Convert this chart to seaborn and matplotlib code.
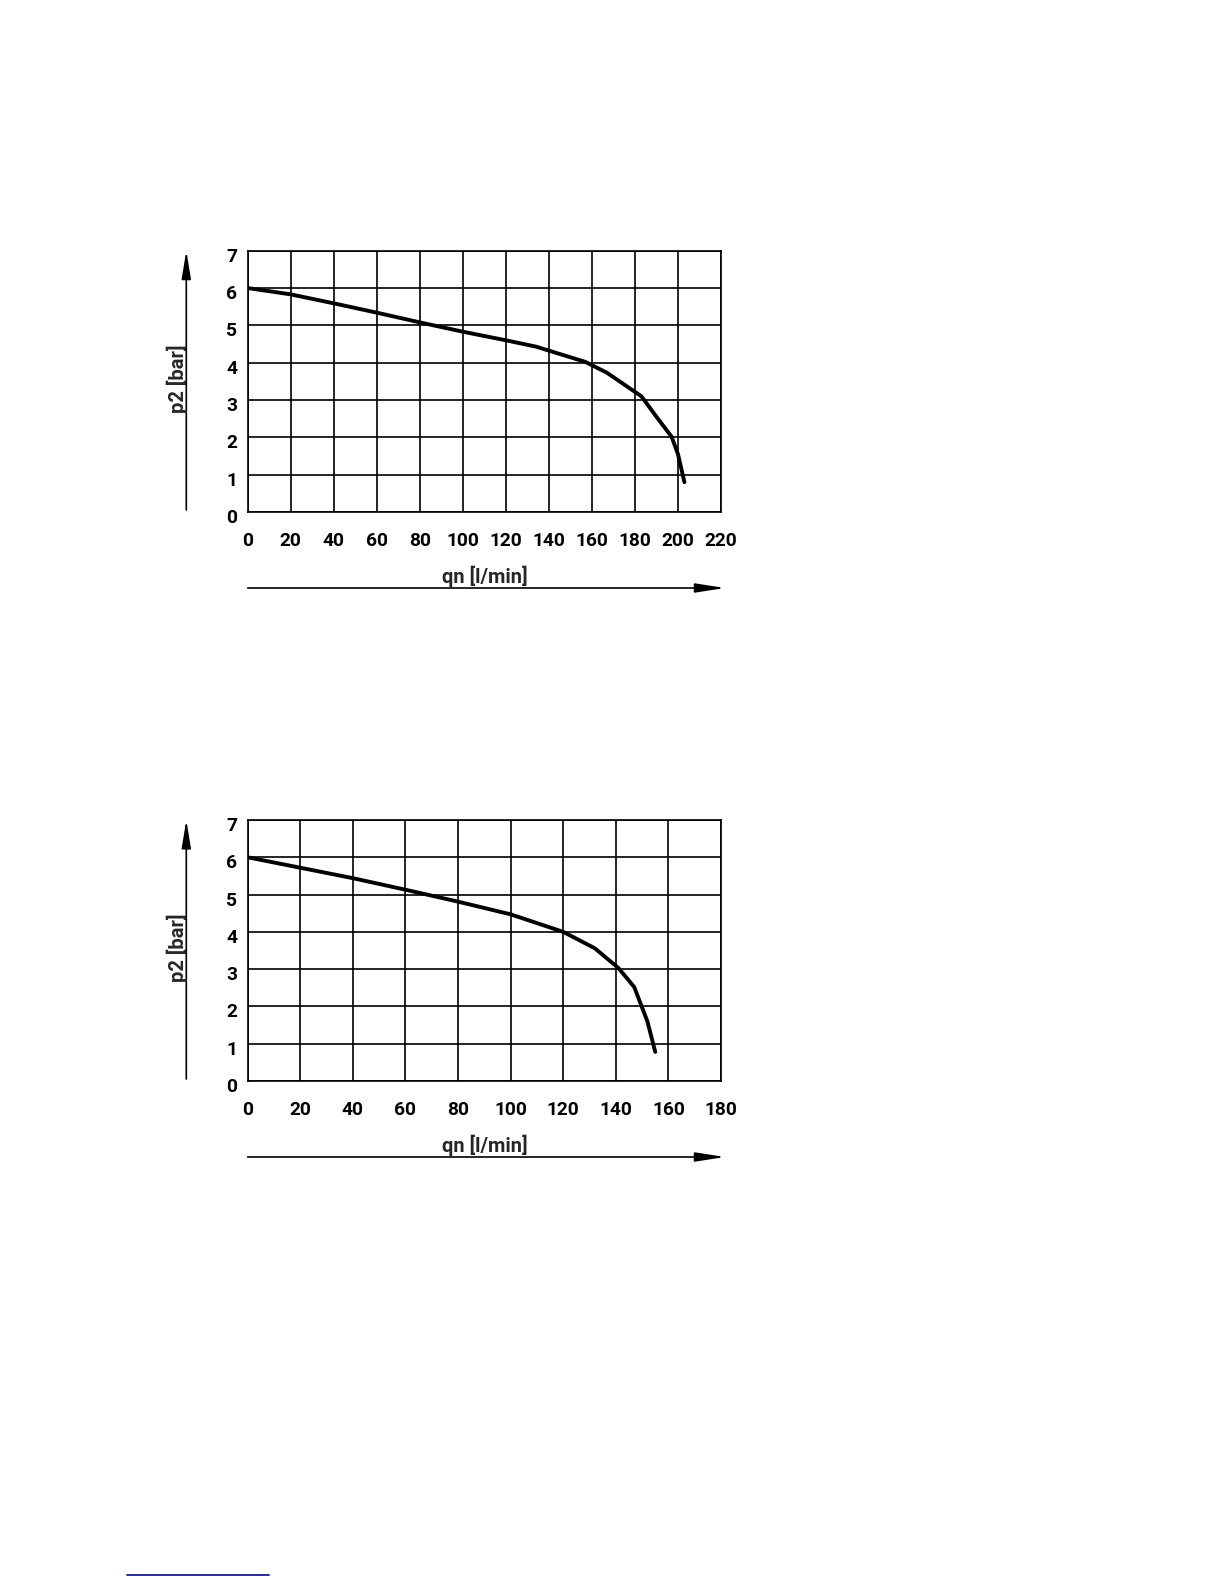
import numpy as np
import pandas as pd
import matplotlib
matplotlib.use("Agg")
import matplotlib.pyplot as plt
import matplotlib.transforms as mtransforms
import seaborn as sns

# ---- data ----
qn_1 = [0, 20, 40, 60, 80, 100, 120, 134, 157, 167, 183, 190, 197, 200, 203]
p2_1 = [6.0, 5.83, 5.59, 5.34, 5.08, 4.83, 4.60, 4.43, 4.02, 3.73, 3.10, 2.55, 2.02, 1.55, 0.80]
xticks_1 = [0, 20, 40, 60, 80, 100, 120, 140, 160, 180, 200, 220]

qn_2 = [0, 20, 40, 60, 80, 100, 120, 132, 141, 147, 152, 155]
p2_2 = [6.0, 5.72, 5.44, 5.13, 4.81, 4.47, 4.00, 3.56, 3.03, 2.52, 1.60, 0.78]
xticks_2 = [0, 20, 40, 60, 80, 100, 120, 140, 160, 180]

yticks = [0, 1, 2, 3, 4, 5, 6, 7]
xlabel = "qn [l/min]"
ylabel = "p2 [bar]"

sns.set_style("white")
plt.rcParams["font.family"] = ["Roboto", "DejaVu Sans"]

W, H = 1224, 1584
fig = plt.figure(figsize=(W / 100, H / 100), dpi=100)
fig.patch.set_facecolor("white")


def fx(px):
    return px / W


def fy(py):
    return 1 - py / H


def draw_chart(qn, p2, xticks, top, bottom, left=247.7, right=721):
    ax = fig.add_axes([fx(left), fy(bottom), fx(right) - fx(left), fy(top) - fy(bottom)])
    df = pd.DataFrame({"qn": qn, "p2": p2})
    sns.lineplot(data=df, x="qn", y="p2", ax=ax, color="black", linewidth=2.8,
                 sort=False, zorder=3)
    ax.set_xlim(xticks[0], xticks[-1])
    ax.set_ylim(0, 7)
    ax.set_xticks(xticks)
    ax.set_yticks(yticks)
    ax.grid(True, color="black", linewidth=1.2)
    for s in ax.spines.values():
        s.set_color("black")
        s.set_linewidth(1.2)
    ax.tick_params(axis="x", length=5.5, width=1.2, color="black",
                   labelsize=13.8, labelcolor="black", pad=9, direction="out")
    ax.tick_params(axis="y", length=7, width=1.2, color="black",
                   labelsize=13.8, labelcolor="black", pad=0.5, direction="out")
    off = mtransforms.ScaledTranslation(0, -4 / 100, fig.dpi_scale_trans)
    for lab in ax.get_xticklabels() + ax.get_yticklabels():
        lab.set_fontweight("bold")
    for lab in ax.get_yticklabels():
        lab.set_transform(lab.get_transform() + off)
    ax.set_xlabel("")
    ax.set_ylabel("")

    # axis-label arrows
    fig.add_artist(matplotlib.patches.FancyArrowPatch(
        (fx(186.3), fy(bottom - 2)), (fx(186.3), fy(top)), transform=fig.transFigure,
        arrowstyle="-|>,head_length=1.7,head_width=0.28", color="black",
        linewidth=1.2, mutation_scale=10, shrinkA=0, shrinkB=0))
    arr_y = bottom + 76
    fig.add_artist(matplotlib.patches.FancyArrowPatch(
        (fx(left), fy(arr_y)), (fx(725), fy(arr_y)), transform=fig.transFigure,
        arrowstyle="-|>,head_length=1.8,head_width=0.28", color="black",
        linewidth=1.2, mutation_scale=10, shrinkA=0, shrinkB=0))
    fig.text(fx(485), fy(bottom + 64), xlabel, ha="center", va="center",
             fontsize=14.5, fontweight="bold")
    fig.text(fx(177), fy((top + bottom) / 2 - 3), ylabel, ha="center", va="center",
             rotation=90, fontsize=14.5, fontweight="bold")
    return ax


draw_chart(qn_1, p2_1, xticks_1, top=250.7, bottom=512)
draw_chart(qn_2, p2_2, xticks_2, top=820, bottom=1081)

# link underline at bottom of page
fig.add_artist(matplotlib.lines.Line2D([fx(127), fx(269)], [fy(1575), fy(1575)],
                                       transform=fig.transFigure, color="#1a1a8c",
                                       linewidth=1.3))

fig.savefig("out.png", dpi=100, facecolor="white")
